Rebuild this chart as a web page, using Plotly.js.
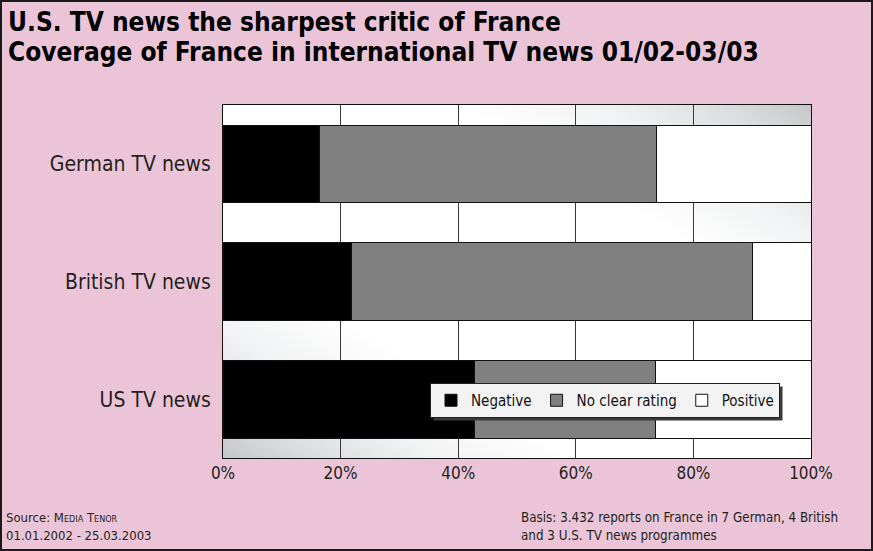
<!DOCTYPE html>
<html>
<head>
<meta charset="utf-8">
<script src="https://cdn.plot.ly/plotly-3.0.1.min.js"></script>
<style>
  html, body { margin: 0; padding: 0; background: #EBC5D7; }
  #wrap { position: relative; width: 873px; height: 551px; }
  #chart { width: 873px; height: 551px; }
  #frame { position: absolute; left: 0; top: 0; width: 873px; height: 551px; box-sizing: border-box; border: 2px solid #1a1a1a; pointer-events: none; }
</style>
</head>
<body>
<div id="wrap"><div id="chart"></div><div id="frame"></div></div>
<script>
// ---- data ----
const categories = ["German TV news", "British TV news", "US TV news"];
const negative   = [16.4, 21.9, 42.7];
const noClear    = [57.4, 68.1, 30.9];
const positive   = [26.2, 10.0, 26.4];
const seriesNames = ["Negative", "No clear rating", "Positive"];
const tickValues = [0, 20, 40, 60, 80, 100];
const tickLabels = ["0%", "20%", "40%", "60%", "80%", "100%"];
const titleLine1 = "U.S. TV news the sharpest critic of France";
const titleLine2 = "Coverage of France in international TV news 01/02-03/03";

const FONT = "'DejaVu Sans Condensed', 'Liberation Sans Narrow', sans-serif";

const colors = ["#000000", "#808080", "#ffffff"];
const values = [negative, noClear, positive];

const traces = values.map((v, i) => ({
  type: "bar",
  orientation: "h",
  name: seriesNames[i],
  y: categories,
  x: v,
  marker: { color: colors[i], line: { color: "#111111", width: 1 } },
  hoverinfo: "x+name"
}));

const gradSvg =
  '<svg xmlns="http://www.w3.org/2000/svg" width="100" height="100" preserveAspectRatio="none">' +
  '<defs><linearGradient id="g" x1="1" y1="0" x2="0" y2="1">' +
  '<stop offset="0" stop-color="#c4c6c8"/>' +
  '<stop offset="0.08" stop-color="#dcdde0"/>' +
  '<stop offset="0.18" stop-color="#f1f2f3"/>' +
  '<stop offset="0.30" stop-color="#ffffff"/>' +
  '<stop offset="0.70" stop-color="#ffffff"/>' +
  '<stop offset="0.82" stop-color="#f1f2f3"/>' +
  '<stop offset="0.92" stop-color="#dcdde0"/>' +
  '<stop offset="1" stop-color="#c4c6c8"/>' +
  '</linearGradient></defs><rect width="100" height="100" fill="url(#g)"/></svg>';
const gradUri = "data:image/svg+xml;charset=utf-8," + encodeURIComponent(gradSvg);

const PL = 223, PT = 105, PW = 588, PH = 353;
const px = (x) => (x - PL) / PW;
const py = (y) => 1 - (y - PT) / PH;

const layout = {
  width: 873,
  height: 551,
  paper_bgcolor: "#EBC5D7",
  plot_bgcolor: "rgba(0,0,0,0)",
  barmode: "stack",
  bargap: 0.34,
  margin: { l: PL, r: 873 - PL - PW, t: PT, b: 551 - PT - PH },
  font: { family: FONT, color: "#231f20" },
  title: {
    text: "<b>" + titleLine1 + "</b>",
    x: 8 / 873, xref: "container", xanchor: "left",
    y: 1 - 22 / 551, yref: "container", yanchor: "middle",
    font: { family: FONT, size: 26, color: "#000000" }
  },
  annotations: [
    {
      text: "<b>" + titleLine2 + "</b>",
      xref: "paper", yref: "paper",
      x: px(6), y: py(52),
      xanchor: "left", yanchor: "middle", showarrow: false,
      font: { family: FONT, size: 26, color: "#000000" }
    },
    {
      text: "Source: M<span style='font-size:9px'>EDIA</span> T<span style='font-size:9px'>ENOR</span>",
      xref: "paper", yref: "paper",
      x: px(4), y: py(517),
      xanchor: "left", yanchor: "middle", showarrow: false,
      font: { family: FONT, size: 13, color: "#231f20" }
    },
    {
      text: "01.01.2002 - 25.03.2003",
      xref: "paper", yref: "paper",
      x: px(4), y: py(535),
      xanchor: "left", yanchor: "middle", showarrow: false,
      font: { family: FONT, size: 13, color: "#231f20" }
    },
    {
      text: "Basis: 3.432 reports on France in 7 German, 4 British",
      xref: "paper", yref: "paper",
      x: px(519), y: py(517),
      xanchor: "left", yanchor: "middle", showarrow: false,
      font: { family: FONT, size: 13.3, color: "#231f20" }
    },
    {
      text: "and 3 U.S. TV news programmes",
      xref: "paper", yref: "paper",
      x: px(519), y: py(535),
      xanchor: "left", yanchor: "middle", showarrow: false,
      font: { family: FONT, size: 13.3, color: "#231f20" }
    }
  ],
  images: [{
    source: gradUri,
    xref: "paper", yref: "paper",
    x: 0, y: 1, sizex: 1, sizey: 1,
    xanchor: "left", yanchor: "top",
    sizing: "stretch", layer: "below"
  }],
  xaxis: {
    range: [0, 100],
    tickvals: tickValues,
    ticktext: tickLabels,
    showgrid: true,
    gridcolor: "#3a3a3a",
    gridwidth: 1,
    zeroline: false,
    showline: true,
    mirror: true,
    linecolor: "#111111",
    linewidth: 1,
    ticks: "",
    tickfont: { family: FONT, size: 17, color: "#231f20" },
    fixedrange: true
  },
  yaxis: {
    type: "category",
    categoryarray: categories,
    autorange: "reversed",
    showgrid: false,
    zeroline: false,
    showline: true,
    mirror: true,
    linecolor: "#111111",
    linewidth: 1,
    ticks: "outside",
    ticklen: 7,
    tickcolor: "rgba(0,0,0,0)",
    tickfont: { family: FONT, size: 21, color: "#231f20" },
    fixedrange: true
  },
  legend: {
    orientation: "h",
    x: px(430),
    y: py(383),
    xanchor: "left",
    yanchor: "top",
    bgcolor: "#f3f3f3",
    bordercolor: "#222222",
    borderwidth: 1,
    font: { family: FONT, size: 15, color: "#111111" },
    traceorder: "normal",
    itemwidth: 30,
    tracegroupgap: 0
  },
  showlegend: true
};

Plotly.newPlot("chart", traces, layout, { displayModeBar: false, staticPlot: true }).then((gd) => {
  // drop shadow behind the legend box, sized from the rendered legend
  const bg = gd.querySelector(".legend .bg");
  if (!bg) return;
  const r = bg.getBoundingClientRect();
  const c = gd.getBoundingClientRect();
  const x0 = r.left - c.left + 3, x1 = r.right - c.left + 3;
  const y0 = r.top - c.top + 3, y1 = r.bottom - c.top + 3;
  return Plotly.relayout(gd, {
    shapes: [{
      type: "rect", xref: "paper", yref: "paper", layer: "above",
      x0: px(x0), x1: px(x1), y0: py(y1), y1: py(y0),
      fillcolor: "#3a3a3a", line: { width: 0 }
    }]
  });
});
</script>
</body>
</html>
